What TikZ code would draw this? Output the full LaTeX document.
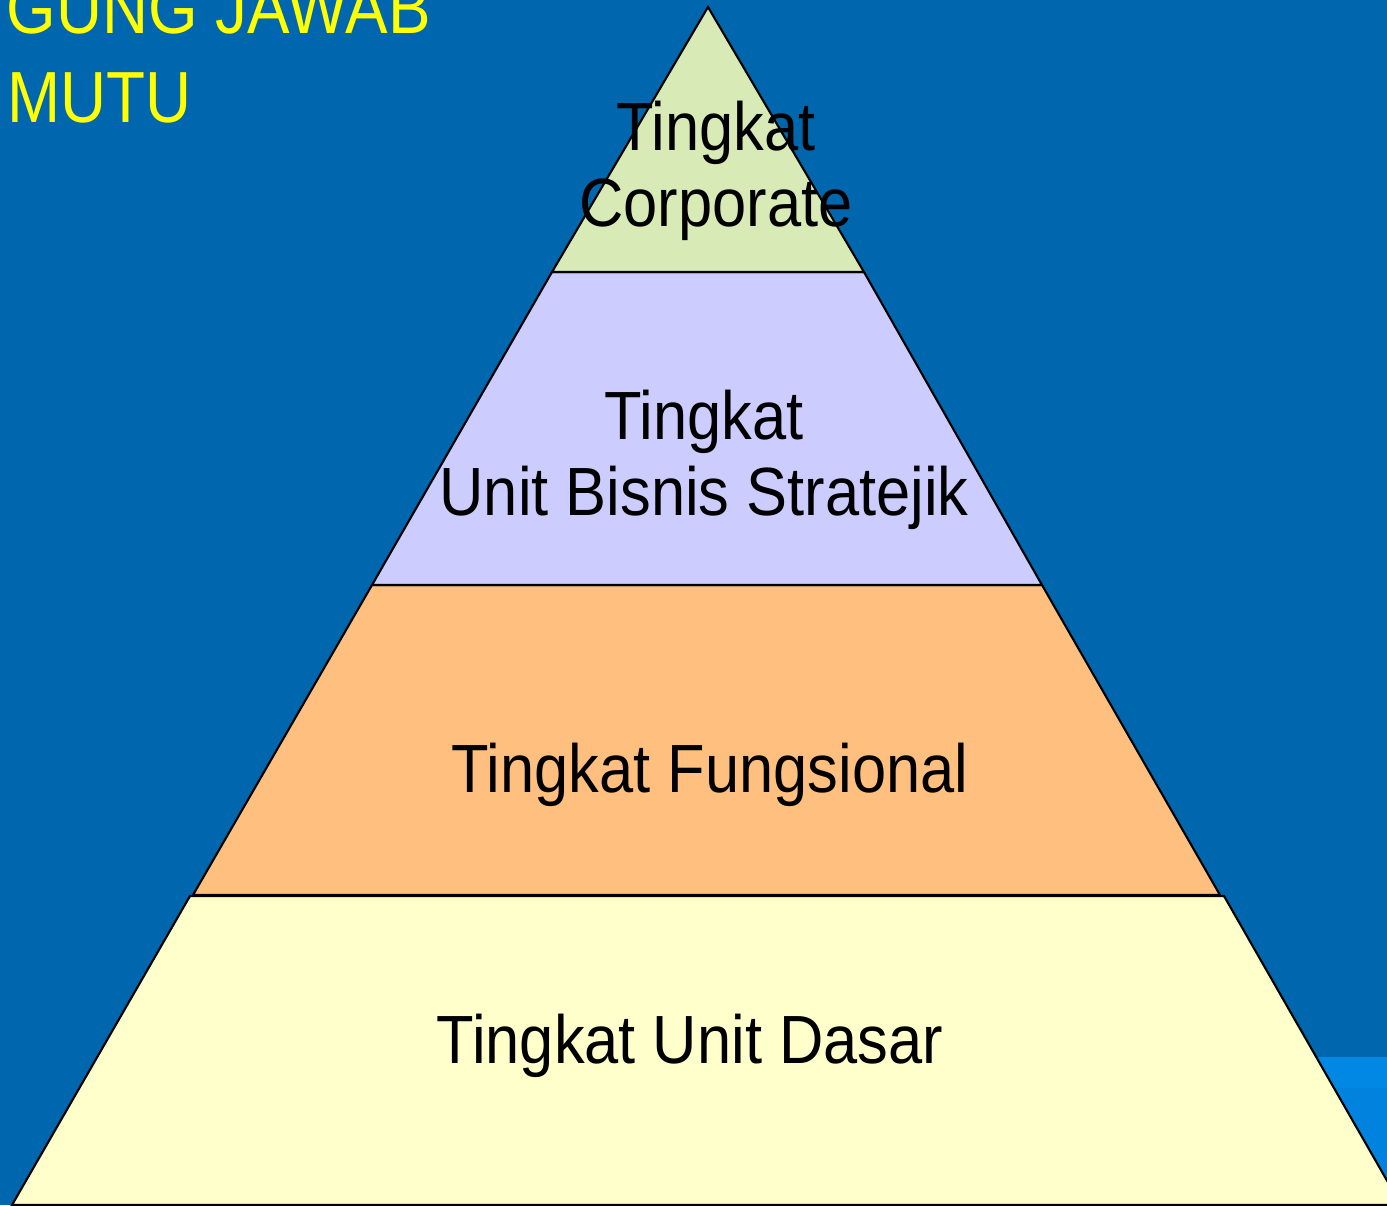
\documentclass[tikz,border=0pt]{standalone}
\usepackage{fontspec}
\setmainfont{Liberation Sans}[FakeStretch=0.88]
\newfontfamily\labfont{Liberation Sans}[FakeStretch=0.9]
\usepackage{tikz}
\definecolor{bg}{HTML}{0066AE}
\definecolor{bgla}{HTML}{0088E4}
\definecolor{bglb}{HTML}{0082DE}
\definecolor{ttlc}{HTML}{FFFF00}
\definecolor{corp}{HTML}{D8EAB6}
\definecolor{sbu}{HTML}{CCCCFF}
\definecolor{func}{HTML}{FFBF7F}
\definecolor{unit}{HTML}{FFFFCC}
\tikzset{
  band/.style={draw=black, line width=0.6pt, line join=miter},
  lab/.style={text=black, font=\labfont\fontsize{19.4}{21.6}\selectfont, align=center, inner sep=0pt},
  ttl/.style={text=ttlc, font=\fontsize{20.6}{25.3}\selectfont, inner sep=0pt, anchor=base west},
}
\begin{document}
\begin{tikzpicture}[x=0.01cm, y=-0.01cm]
  \useasboundingbox (0,0) rectangle (1387,1205);
  \clip (0,0) rectangle (1387,1205);
  \fill[bg] (0,0) rectangle (1387,1205);
  \fill[bgla] (1000,1057) rectangle (1387,1088);
  \fill[bglb] (1000,1088) rectangle (1387,1205);
  % pyramid corners
  \coordinate (top) at (708,7);
  \coordinate (c1l) at (552,272);  \coordinate (c1r) at (864,272);
  \coordinate (c2l) at (372,585);  \coordinate (c2r) at (1042,585);
  \coordinate (c3l) at (193,895);  \coordinate (c3r) at (1220,895);
  \coordinate (c4l) at (190,896);  \coordinate (c4r) at (1224,896);
  \coordinate (c5l) at (12,1205);  \coordinate (c5r) at (1401,1205);
  \draw[band, fill=unit] (c4l) -- (c4r) -- (c5r) -- (c5l) -- cycle;
  \draw[band, fill=func] (c2l) -- (c2r) -- (c3r) -- (c3l) -- cycle;
  \draw[band, fill=sbu] (c1l) -- (c1r) -- (c2r) -- (c2l) -- cycle;
  \draw[band, fill=corp] (top) -- (c1r) -- (c1l) -- cycle;
  % labels
  \node[lab] (corpl) at (716,171) {Tingkat\\Corporate};
  \node[lab] (sbul) at (704,460) {Tingkat\\Unit Bisnis Stratejik};
  \node[lab, anchor=base] (funcl) at (710,792) {Tingkat Fungsional};
  \node[lab, anchor=base] (unitl) at (690,1063) {Tingkat Unit Dasar};
  \node[ttl] (ttla) at (6,33) {GUNG JAWAB};
  \node[ttl] (ttlb) at (7,122) {MUTU};
\end{tikzpicture}
\end{document}
